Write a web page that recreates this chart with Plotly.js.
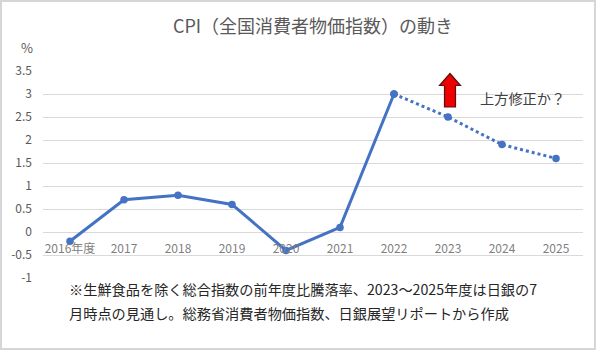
<!DOCTYPE html>
<html>
<head>
<meta charset="utf-8">
<script src="https://cdn.plot.ly/plotly-3.0.1.min.js"></script>
<style>
  html, body { margin: 0; padding: 0; background: #fff; }
  #wrap { position: relative; width: 600px; height: 352px; }
  #chart { width: 600px; height: 352px; }
  #frame { position: absolute; left: 0; top: 0; width: 596px; height: 350px;
           border: 2px solid #d6d6d6; box-sizing: border-box; pointer-events: none; }
</style>
</head>
<body>
<div id="wrap">
  <div id="chart"></div>
  <div id="frame"></div>
</div>
<script>
// ---- data ----
const years = ["2016年度", "2017", "2018", "2019", "2020", "2021", "2022", "2023", "2024", "2025"];
const cpi = [-0.2, 0.7, 0.8, 0.6, -0.4, 0.1, 3.0, 2.5, 1.9, 1.6];
const actualEnd = 6; // index of 2022 (last actual)
const yTickVals = [-1, -0.5, 0, 0.5, 1, 1.5, 2, 2.5, 3, 3.5];
const yTickText = ["-1", "-0.5", "0", "0.5", "1", "1.5", "2", "2.5", "3", "3.5"];
const titleText = "CPI（全国消費者物価指数）の動き";
const unitText = "%";
const noteText = "上方修正か？";
const footLine1 = "※生鮮食品を除く総合指数の前年度比騰落率、2023～2025年度は日銀の7";
const footLine2 = "月時点の見通し。総務省消費者物価指数、日銀展望リポートから作成";

// ---- layout constants ----
const W = 600, H = 352;
const L = 43, R = 17, T = 71, B = 74;
const yMin = -1, yMax = 3.5;
const pw = W - L - R, ph = H - T - B;
const px = v => (v - L) / pw;        // pixel x -> paper
const py = v => (H - B - v) / ph;    // pixel y -> paper

const blue = "#4472C4";
const jp = "'Noto Sans CJK JP', 'Noto Sans', sans-serif";

const solid = {
  x: years.slice(0, actualEnd + 1),
  y: cpi.slice(0, actualEnd + 1),
  type: "scatter", mode: "lines+markers",
  line: { color: blue, width: 3 },
  marker: { color: blue, size: 7.5 },
  hoverinfo: "x+y", showlegend: false
};
const dotted = {
  x: years.slice(actualEnd),
  y: cpi.slice(actualEnd),
  type: "scatter", mode: "lines+markers",
  line: { color: blue, width: 3, dash: "dot" },
  marker: { color: blue, size: 7.5 },
  hoverinfo: "x+y", showlegend: false
};

// red up-arrow (decoration) in pixel space -> paper
const cx = 450;
const arrowPts = [
  [cx, 73.5], [cx + 10.5, 85.5], [cx + 5.5, 85.5], [cx + 5.5, 107],
  [cx - 5.5, 107], [cx - 5.5, 85.5], [cx - 10.5, 85.5]
];
const arrowPath = "M " + arrowPts.map(p => px(p[0]).toFixed(5) + "," + py(p[1]).toFixed(5)).join(" L ") + " Z";

const layout = {
  width: W, height: H,
  margin: { l: L, r: R, t: T, b: B, pad: 0 },
  paper_bgcolor: "#fff", plot_bgcolor: "#fff",
  font: { family: jp, color: "#595959" },
  title: {
    text: titleText,
    font: { family: jp, size: 18, color: "#595959" },
    x: 0.5, xref: "paper", xanchor: "center",
    y: 1 - 27 / H, yref: "container", yanchor: "middle"
  },
  xaxis: {
    type: "category",
    range: [-0.5, years.length - 0.5],
    anchor: "free",
    position: (0 - yMin) / (yMax - yMin),
    showgrid: false, zeroline: false, showline: false,
    ticks: "", ticklabelstandoff: 8,
    tickfont: { family: jp, size: 12, color: "#7f7f7f" },
    fixedrange: true
  },
  yaxis: {
    range: [yMin, yMax],
    tickvals: yTickVals, ticktext: yTickText,
    showgrid: true, gridcolor: "#d9d9d9", gridwidth: 1,
    zeroline: false, showline: false,
    ticks: "", ticklabelstandoff: 10,
    tickfont: { family: jp, size: 12, color: "#595959" },
    fixedrange: true
  },
  shapes: [{
    type: "path", xref: "paper", yref: "paper",
    path: arrowPath,
    fillcolor: "#ee0000",
    line: { color: "#5a1010", width: 1.2 }
  }],
  annotations: [
    { text: unitText, xref: "paper", yref: "paper", x: px(27), y: py(47.5),
      xanchor: "center", yanchor: "middle", showarrow: false,
      font: { family: jp, size: 13, color: "#595959" } },
    { text: noteText, xref: "paper", yref: "paper", x: px(478), y: py(98),
      xanchor: "left", yanchor: "middle", showarrow: false,
      font: { family: jp, size: 14.2, color: "#404040" } },
    { text: footLine1, xref: "paper", yref: "paper", x: px(67), y: py(288.5),
      xanchor: "left", yanchor: "middle", showarrow: false,
      font: { family: jp, size: 14.2, color: "#262626" } },
    { text: footLine2, xref: "paper", yref: "paper", x: px(67), y: py(312.5),
      xanchor: "left", yanchor: "middle", showarrow: false,
      font: { family: jp, size: 14.2, color: "#262626" } }
  ]
};

Plotly.newPlot("chart", [solid, dotted], layout, { displayModeBar: false, staticPlot: true });
</script>
</body>
</html>
